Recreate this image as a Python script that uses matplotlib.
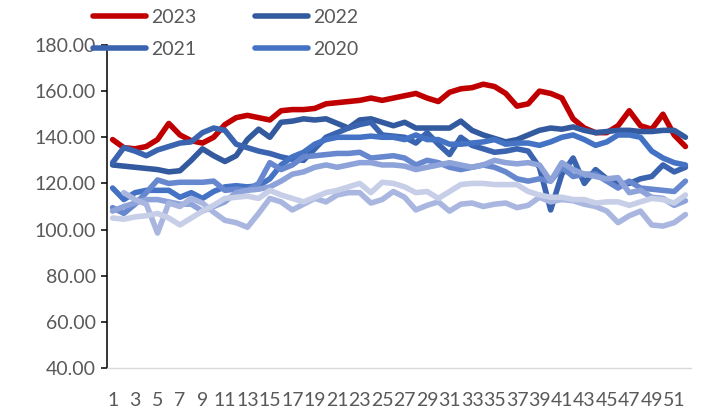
import numpy as np
import matplotlib
matplotlib.use("Agg")
import matplotlib.pyplot as plt

plt.rcParams['font.family'] = ['Lato', 'DejaVu Sans']

# === data: weekly index, weeks 1..52 ===
weeks = list(range(1, 53))
week_labels = [str(w) if w % 2 == 1 else "" for w in weeks]

y2023 = [139, 135.5, 135, 136, 139, 146, 141, 138.5, 137.5, 140,
         145.5, 148.5, 149.5, 148.5, 147.5, 151.5, 152, 152, 152.5, 154.5,
         155, 155.5, 156, 157, 156, 157, 158, 159, 157, 155.5,
         159.5, 161, 161.5, 163, 162, 159, 153.5, 154.5, 160, 159,
         157, 148, 144, 142, 142, 145, 151.5, 145, 143.5, 150,
         141, 136]
y2022 = [128, 127.5, 127, 126.5, 126, 125, 125.5, 130, 135, 132,
         129.5, 132, 139, 143.5, 140, 146.5, 147, 148, 147.5, 148,
         146, 144, 147.5, 148, 146.5, 145, 146.5, 144, 144, 144,
         144, 147, 143, 141, 139.5, 138, 139, 141, 143, 144,
         143.5, 144.5, 143, 142, 142.5, 143, 143, 142.5, 142.5, 143,
         143, 140]
y2021 = [129, 135.5, 134, 132, 134.5, 136, 137.5, 138, 142, 144,
         143, 137, 135.5, 134, 133, 131.5, 130.5, 130, 135, 140,
         142, 144, 145.5, 146.5, 141, 140.5, 140, 137.5, 142, 137,
         132.5, 140, 136.5, 135, 133.5, 134, 135, 134, 127, 108.5,
         124, 131, 120, 126, 122, 120, 120, 122, 123, 128,
         125, 127]
y2020 = [118, 113, 116, 117, 117, 117, 114, 116, 113.5, 116.5,
         118.5, 119, 118.5, 119, 122, 128, 131.5, 133.5, 137, 139,
         140, 140, 140, 140.5, 140, 140, 139, 141, 139, 139,
         137, 137, 137.5, 138, 139, 137, 137.5, 137.5, 136.5, 138,
         140, 141, 139, 136.5, 138, 141, 141, 140, 134, 131,
         129, 128]
y2019 = [109.5, 107, 111, 116, 121.5, 120, 120.5, 120.5, 120.5, 121,
         117, 117.5, 117, 120, 129, 126, 128, 131.5, 132, 132.5,
         133, 133, 133.5, 131, 131.5, 132, 131, 128, 130, 129,
         127, 126, 127, 128, 127, 125, 122, 121, 122, 121,
         127, 123, 124, 124, 121, 118, 121, 118, 117.5, 117,
         116.5, 121]
y2018 = [108, 110, 111.5, 113, 113, 112, 111, 111, 108, 110,
         112, 116, 117, 117.5, 118.5, 121, 124, 125, 127, 128,
         127, 128, 129, 129, 128, 128, 127.5, 126, 127, 128,
         129, 128, 127, 128, 130, 129, 128.5, 129, 128, 121,
         129, 126, 124, 123, 122, 122.5, 116, 117, 114, 113.5,
         110.5, 112.5]
y2017 = [np.nan, 116, 113, 111, 98.5, 111.5, 110, 113.5, 111.5, 107.5,
         104, 103, 101, 107, 113.5, 112, 108.5, 111, 113.5, 112,
         115, 116, 116, 111.5, 113, 116.5, 114, 108.5, 110.5, 112,
         108, 111, 111.5, 110, 111, 111.5, 109.5, 110.5, 114, 112,
         113, 112.5, 111, 110, 108, 103, 106, 108, 102, 101.5,
         103, 106.5]
y2016 = [105, 104.5, 105.5, 106, 107, 105, 102, 105, 108, 110.5,
         113.5, 114, 114.5, 113.5, 117, 115, 113.5, 112, 114, 116,
         117, 118.5, 120, 116, 120.5, 120, 118.5, 116, 116.5, 113.5,
         116.5, 119.5, 120, 120, 119.5, 119.5, 119.5, 116.5, 115, 114,
         114, 113, 113, 111.5, 112, 112, 110.5, 112, 113.5, 113,
         111.5, 115]

series = [
    ("2023", y2023, "#C00000"),
    ("2022", y2022, "#335A9E"),
    ("2021", y2021, "#3A64B0"),
    ("2020", y2020, "#4472C4"),
    ("2019", y2019, "#6788CF"),
    ("2018", y2018, "#8DA3D9"),
    ("2017", y2017, "#A9B7E0"),
    ("2016", y2016, "#C6CEE8"),
]

fig = plt.figure(figsize=(7.02, 4.12), dpi=100)
ax = fig.add_axes([0.1524, 0.1068, 0.832, 0.784])

handles = {}
for name, vals, col in series:
    ln, = ax.plot(weeks, vals, color=col, lw=4.0, solid_capstyle="round",
                  solid_joinstyle="round", label=name)
    handles[name] = ln

ax.set_xlim(0.5, 52.5)
ax.set_ylim(40, 180)
ax.set_yticks(np.arange(40, 181, 20))
ax.set_yticklabels([f"{v:.2f}" for v in np.arange(40, 181, 20)])
ax.set_xticks(weeks)
ax.set_xticklabels(week_labels)

for s in ["top", "right"]:
    ax.spines[s].set_visible(False)
ax.spines["left"].set_color("black")
ax.spines["left"].set_linewidth(1.1)
ax.spines["bottom"].set_color("#D9D9D9")
ax.spines["bottom"].set_linewidth(1.0)

ax.tick_params(axis="y", direction="out", length=4, width=1.1, color="black",
               labelsize=14, labelcolor="#595959", pad=4)
ax.tick_params(axis="x", length=0, labelsize=14, labelcolor="#595959", pad=17)

# legend shows the first four years only, filled row by row
order = ["2023", "2021", "2022", "2020"]
leg = fig.legend([handles[k] for k in order], order,
                 loc="upper left", bbox_to_anchor=(0.113, 1.012), ncol=2,
                 frameon=False, fontsize=14, handlelength=2.75,
                 handletextpad=0.25, columnspacing=3.0, labelspacing=0.78,
                 borderpad=0.2)
for t in leg.get_texts():
    t.set_color("#595959")

fig.savefig("out.png", dpi=100)
